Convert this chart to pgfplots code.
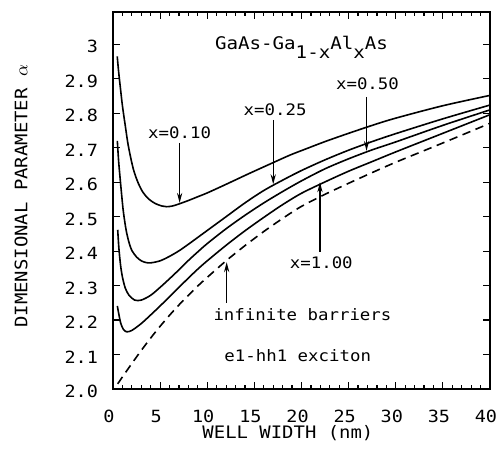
\documentclass[border=0pt]{standalone}
\usepackage{pgfplots}
\pgfplotsset{compat=1.18}
\usepackage{fontspec}
\setmainfont[FakeStretch=1.1]{DejaVu Sans Mono}
\usetikzlibrary{arrows.meta}
\begin{document}
\begin{tikzpicture}
\useasboundingbox (-56.5pt,-30pt) rectangle (191.5pt,194.5pt);
\begin{axis}[
  scale only axis, width=188.5pt, height=188.5pt,
  xmin=0, xmax=40, ymin=2.0, ymax=3.094,
  xtick={0,5,10,15,20,25,30,35,40},
  xticklabels={0,5,10,15,20,25,30,35,40},
  minor x tick num=4,
  ytick={2,2.1,2.2,2.3,2.4,2.5,2.6,2.7,2.8,2.9,3},
  yticklabels={2.0,2.1,2.2,2.3,2.4,2.5,2.6,2.7,2.8,2.9,3},
  tick align=inside,
  major tick length=3.5pt, minor tick length=1.8pt,
  axis line style={line width=0.9pt},
  every tick/.style={black,line width=0.6pt},
  tick label style={font=\fontsize{8.4}{10}\selectfont},
  xticklabel style={anchor=center,inner sep=0pt,yshift=-13.5pt,xshift=-2pt},
  yticklabel style={anchor=east,inner sep=0pt,xshift=-7.3pt,yshift=-1.2pt},
  xlabel={WELL WIDTH (nm)},
  ylabel={DIMENSIONAL PARAMETER $\alpha$},
  label style={font=\fontsize{8.6}{10}\selectfont,inner sep=0pt},
  xlabel style={at={(rel axis cs:0.464,-0.117)},anchor=center},
  ylabel style={at={(rel axis cs:-0.244,0.511)},anchor=center},
]
% x = 0.10
\addplot[black, line width=0.8pt, smooth, tension=0.5] coordinates {
(0.45,2.965)(0.6,2.92)(0.8,2.87)(1.0,2.822)(1.27,2.77)(1.63,2.705)(2.16,2.638)(2.7,2.596)(3.2,2.570)(3.8,2.551)(4.5,2.538)(5.2,2.531)(5.7,2.529)(6.3,2.531)(6.9,2.536)(8,2.547)(9,2.558)(10,2.569)(12,2.594)(14.5,2.626)(17,2.657)(18.8,2.679)(20.4,2.696)(22.5,2.718)(25,2.742)(27.5,2.765)(30,2.786)(35,2.822)(40,2.852)};
% x = 0.25
\addplot[black, line width=0.8pt, smooth, tension=0.5] coordinates {
(0.46,2.72)(0.6,2.66)(0.8,2.598)(1.0,2.54)(1.13,2.508)(1.4,2.46)(1.7,2.425)(2.0,2.402)(2.5,2.383)(3,2.372)(3.5,2.367)(4,2.366)(5,2.372)(6,2.385)(7,2.401)(8,2.42)(9,2.44)(10,2.46)(12,2.5)(14,2.54)(16,2.576)(18,2.606)(20,2.634)(22.5,2.665)(25,2.693)(27.5,2.718)(30,2.741)(35,2.784)(40,2.824)};
% x = 0.50
\addplot[black, line width=0.8pt, smooth, tension=0.5] coordinates {
(0.5,2.462)(0.62,2.41)(0.8,2.36)(1.0,2.325)(1.3,2.293)(1.7,2.272)(2.3,2.258)(3,2.258)(4,2.272)(5,2.295)(6,2.32)(7,2.346)(8,2.373)(9,2.398)(10,2.422)(12,2.465)(14,2.504)(16,2.54)(18,2.573)(20,2.604)(22.5,2.639)(25,2.668)(27.5,2.694)(30,2.717)(35,2.765)(40,2.810)};
% x = 1.00
\addplot[black, line width=0.8pt, smooth, tension=0.5] coordinates {
(0.46,2.241)(0.6,2.22)(0.82,2.191)(1.1,2.173)(1.45,2.166)(2,2.170)(3,2.19)(4,2.215)(5,2.241)(6,2.268)(7,2.295)(8,2.322)(9,2.348)(10,2.372)(12,2.417)(14,2.459)(16,2.498)(18,2.535)(20,2.568)(22.5,2.601)(25,2.632)(27.5,2.660)(30,2.688)(35,2.742)(40,2.796)};
% infinite barriers
\addplot[black, line width=0.8pt, dash pattern=on 4.2pt off 2.8pt, smooth, tension=0.5] coordinates {
(0.5,2.015)(1,2.035)(2,2.074)(3,2.112)(4,2.148)(5,2.182)(6,2.214)(7,2.244)(8,2.272)(9,2.299)(10,2.324)(12,2.372)(14,2.416)(16,2.457)(18,2.495)(20,2.530)(22.5,2.565)(25,2.597)(27.5,2.628)(30,2.658)(35,2.714)(40,2.771)};

\tikzset{arr/.style={line width=0.7pt,-{Stealth[length=5pt,width=2.6pt]}}}
\draw[arr] (axis cs:7.07,2.714) -- (axis cs:7.07,2.540);
\draw[arr] (axis cs:17.0,2.781) -- (axis cs:17.0,2.594);
\draw[arr] (axis cs:26.9,2.848) -- (axis cs:26.9,2.691);
\draw[arr] (axis cs:21.96,2.399) -- (axis cs:21.96,2.600);
\draw[arr] (axis cs:12.06,2.25) -- (axis cs:12.06,2.368);

\tikzset{lab/.style={anchor=base,inner sep=0pt,font=\fontsize{7.9}{10}\selectfont}}
\node[lab] at (axis cs:7.07,2.728) {x=0.10};
\node[lab] at (axis cs:17.2,2.795) {x=0.25};
\node[lab] at (axis cs:27.0,2.868) {x=0.50};
\node[lab] at (axis cs:22.1,2.350) {x=1.00};
\node[lab] at (axis cs:20.1,2.200) {infinite barriers};
\node[lab] at (axis cs:19.6,2.079) {e1-hh1 exciton};
\node[anchor=base,inner sep=0pt,font=\fontsize{8.7}{10}\selectfont] at (axis cs:20.0,2.984)
  {GaAs-Ga\raisebox{-4.2pt}{1-x}Al\raisebox{-4.2pt}{x}As};
\end{axis}
\end{tikzpicture}
\end{document}
